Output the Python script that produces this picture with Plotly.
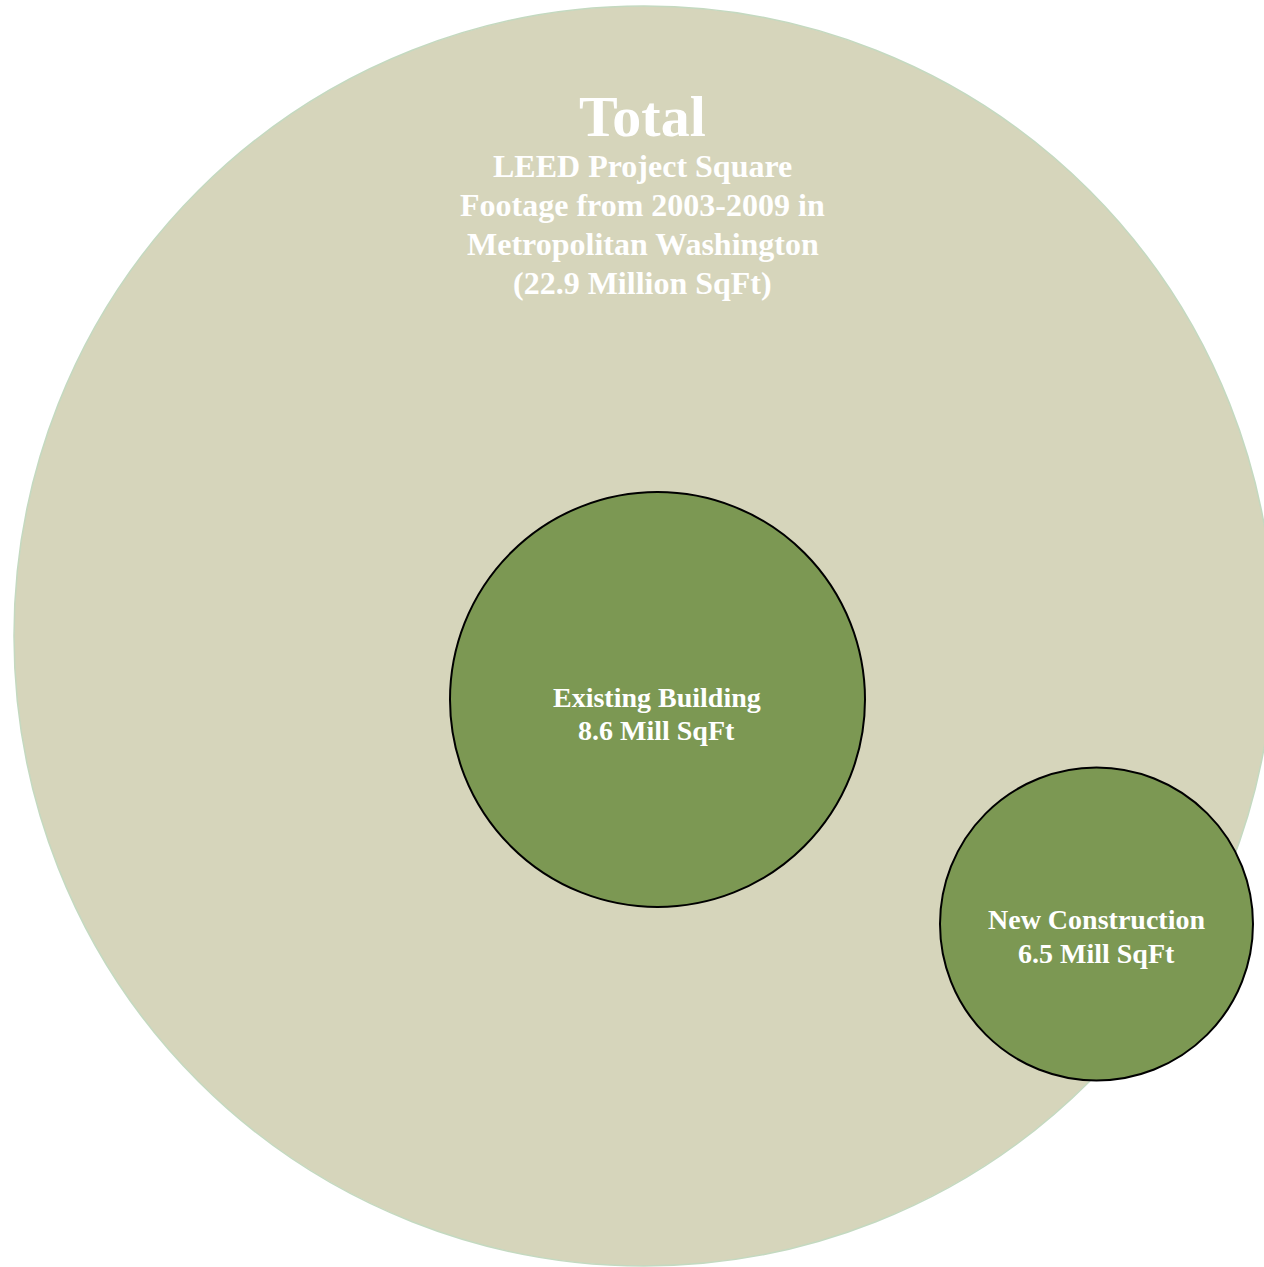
import plotly.graph_objects as go

# ---- data ----
categories = ["Total", "Existing Building", "New Construction"]
values_mill_sqft = [22.9, 8.6, 6.5]
total_subtitle = ["LEED Project Square", "Footage from 2003-2009 in",
                  "Metropolitan Washington"]

# ---- layout (pixel geometry, not data) ----
W, H = 1264, 1267
circle_geom = {  # center x, center y, radius
    "Total": (644, 636, 630),
    "Existing Building": (657.5, 699.5, 207.5),
    "New Construction": (1096.5, 924, 156.5),
}
fills = {"Total": "#D6D5BB", "Existing Building": "#7C9853", "New Construction": "#7C9853"}
lines = {"Total": ("#C4D9C0", 1.5), "Existing Building": ("#000000", 2), "New Construction": ("#000000", 2)}
FONT = "Liberation Serif, Times New Roman, serif"

fig = go.Figure()
fig.add_trace(go.Scatter(x=[0, W], y=[0, H], mode="markers", marker=dict(opacity=0),
                         hoverinfo="skip", showlegend=False))

for cat in categories:
    cx, cy, r = circle_geom[cat]
    lc, lw = lines[cat]
    fig.add_shape(type="circle", xref="x", yref="y",
                  x0=cx - r, x1=cx + r, y0=cy - r, y1=cy + r,
                  fillcolor=fills[cat], line=dict(color=lc, width=lw), layer="below")

def label(x, y, text, size):
    fig.add_annotation(x=x, y=y, xref="x", yref="y", text=f"<b>{text}</b>",
                       showarrow=False, xanchor="center", yanchor="middle",
                       font=dict(family=FONT, size=size, color="white"))

# Total block
label(642.5, 116, categories[0], 58)
sub_lines = total_subtitle + [f"({values_mill_sqft[0]} Million SqFt)"]
for i, t in enumerate(sub_lines):
    label(642.5, 166 + 39 * i, t, 32)

# Existing Building
label(656.5, 697, categories[1], 28)
label(656.5, 730, f"{values_mill_sqft[1]} Mill SqFt", 28)

# New Construction
label(1096.5, 919, categories[2], 28)
label(1096.5, 953, f"{values_mill_sqft[2]} Mill SqFt", 28)

fig.update_xaxes(range=[0, W], visible=False, fixedrange=True)
fig.update_yaxes(range=[H, 0], visible=False, fixedrange=True)
fig.update_layout(width=W, height=H,
                  margin=dict(l=0, r=0, t=0, b=0),
                  plot_bgcolor="white", paper_bgcolor="white", showlegend=False)

fig.write_html("out.html",
               config={"displayModeBar": False, "staticPlot": True},
               post_script="document.body.style.margin='0';document.body.style.overflow='hidden';")
